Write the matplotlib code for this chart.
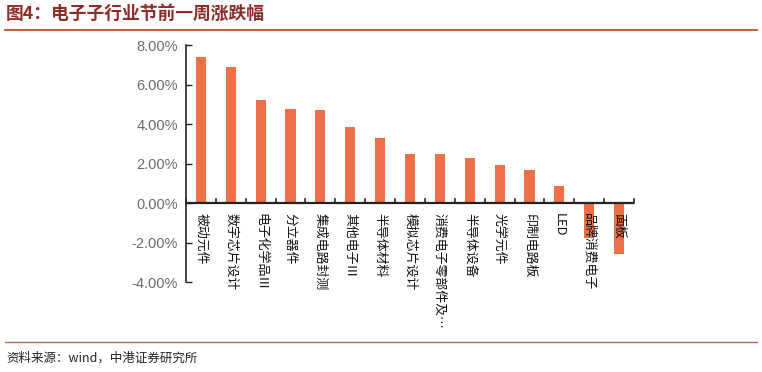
import numpy as np
import matplotlib
matplotlib.use('Agg')
import matplotlib.pyplot as plt
from matplotlib.lines import Line2D
from matplotlib.ticker import FuncFormatter

plt.rcParams['font.family'] = ['Noto Sans CJK SC', 'DejaVu Sans']

categories = ['被动元件', '数字芯片设计', '电子化学品Ⅲ', '分立器件', '集成电路封测',
              '其他电子Ⅲ', '半导体材料', '模拟芯片设计', '消费电子零部件及…',
              '半导体设备', '光学元件', '印制电路板', 'LED', '品牌消费电子', '面板']
changes = [7.38, 6.87, 5.21, 4.74, 4.69, 3.83, 3.27, 2.50, 2.46,
           2.26, 1.92, 1.69, 0.84, -1.79, -2.58]

bar_color = '#EE7049'
title_color = '#8B2E2A'
rule_color = '#C0502D'

fig = plt.figure(figsize=(7.62, 3.72), dpi=100)
ax = fig.add_axes([0.2441, 0.2419, 0.5879, 0.6371])

x = np.arange(len(categories))
ax.bar(x, changes, width=0.34, color=bar_color, zorder=1)

ax.set_xlim(-0.5, len(categories) - 0.5)
ax.set_ylim(-4, 8)
ax.set_yticks(np.arange(-4, 8.1, 2))
ax.yaxis.set_major_formatter(FuncFormatter(lambda v, p: '%.2f%%' % v))
ax.tick_params(axis='y', direction='in', length=4, width=1, colors='#222222',
               labelcolor='#6b6b6b', labelsize=10.5, pad=6)
for lab in ax.get_yticklabels():
    lab.set_family('Liberation Sans')

for s in ['top', 'right', 'bottom']:
    ax.spines[s].set_visible(False)
ax.spines['left'].set_linewidth(1.2)
ax.spines['left'].set_color('#222222')

# zero line with category boundary ticks
ax.axhline(0, color='#222222', lw=1.6, zorder=3)
ax.set_xticks([])
for b in np.arange(-0.5, len(categories), 1.0):
    ax.plot([b, b], [0, 0.2], color='#222222', lw=1.2, zorder=3, clip_on=False)

for xi, name in zip(x, categories):
    ax.text(xi, -0.5, name, rotation=-90, ha='center', va='top',
            fontsize=9.3, color='#111111', zorder=4)

# title and rules
fig.text(0.008, 0.962, '图4：电子子行业节前一周涨跌幅', fontsize=12.8, fontweight='bold',
         color=title_color, ha='left', va='center')
fig.add_artist(Line2D([0.007, 0.993], [0.919, 0.919], color=rule_color, lw=1.3))
fig.add_artist(Line2D([0.007, 0.993], [0.081, 0.081], color='#B8694F', lw=1.0))
fig.text(0.008, 0.037, '资料来源：wind，中港证券研究所', fontsize=9, style='italic',
         color='#222222', ha='left', va='center')

fig.savefig('out.png', dpi=100)
